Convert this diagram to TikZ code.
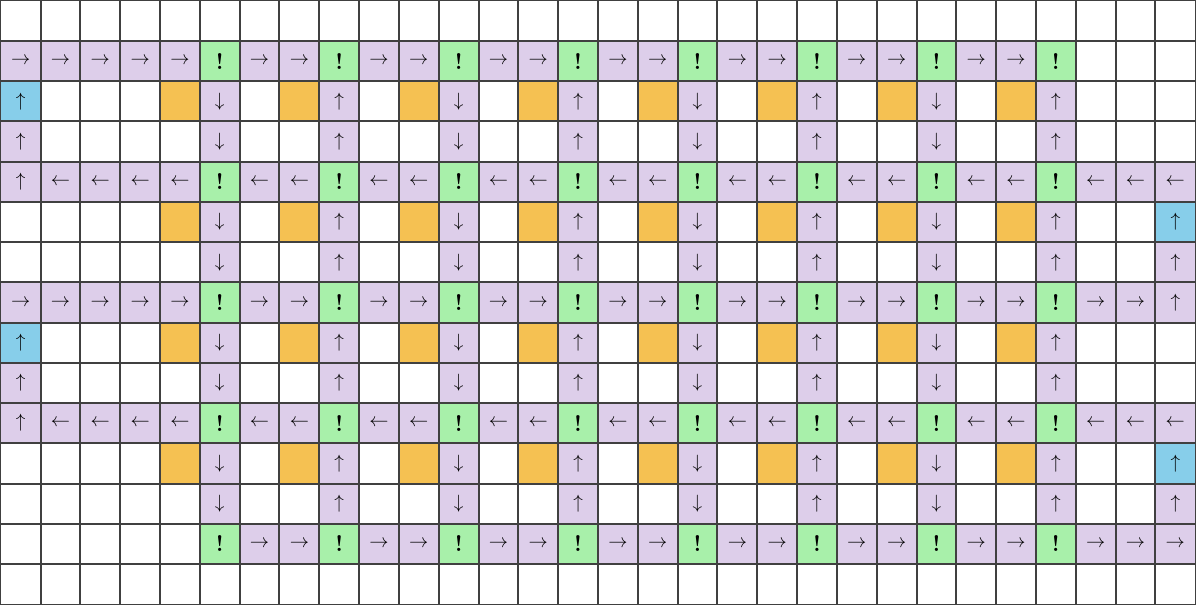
\documentclass[tikz,border=0pt]{standalone}
\usepackage{tikz}
\definecolor{purp}{RGB}{221,206,234}
\definecolor{grn}{RGB}{168,240,170}
\definecolor{orng}{RGB}{245,193,82}
\definecolor{blu}{RGB}{135,206,234}
\definecolor{gridc}{RGB}{64,64,64}
\newlength\cw \setlength\cw{29.86pt}
\newlength\ch \setlength\ch{30.17pt}
\tikzset{
  cell/.style={minimum width=\cw, minimum height=\ch,
    inner sep=0pt, anchor=center, font=\fontsize{15}{15}\selectfont},
  cellW/.style={cell, fill=white},
  cellR/.style={cell, fill=purp},
  cellL/.style={cell, fill=purp},
  cellU/.style={cell, fill=purp},
  cellD/.style={cell, fill=purp},
  cellG/.style={cell, fill=grn},
  cellO/.style={cell, fill=orng},
  cellB/.style={cell, fill=blu},
  gridline/.style={draw=gridc, line width=1.1pt},
}
\newcommand\txtW{}
\newcommand\txtO{}
\newcommand\txtR{$\rightarrow$}
\newcommand\txtL{$\leftarrow$}
\newcommand\txtU{$\uparrow$}
\newcommand\txtD{$\downarrow$}
\newcommand\txtB{$\uparrow$}
\newcommand\txtG{{\fontsize{17}{17}\selectfont\bfseries !}}
\begin{document}
\begin{tikzpicture}
\useasboundingbox (0,0) rectangle (897pt,-453.75pt);
\foreach \r in {0,...,14}{
  \foreach \c in {0,...,29}{
    \pgfmathtruncatemacro\isH{(mod(\r+2,3)==0)&&(\r>=1)&&(\r<=13)}
    \pgfmathtruncatemacro\isV{(\r>=2)&&(\r<=12)&&(\isH==0)}
    \pgfmathtruncatemacro\isGc{(\c>=5)&&(\c<=26)&&(mod(\c+1,3)==0)}
    \pgfmathtruncatemacro\isDn{(\c>=5)&&(\c<=23)&&(mod(\c+1,6)==0)}
    \pgfmathtruncatemacro\isUp{(\c>=8)&&(\c<=26)&&(mod(\c+4,6)==0)}
    \pgfmathtruncatemacro\isOr{(\c>=4)&&(\c<=25)&&(mod(\c+2,3)==0)&&(mod(\r+1,3)==0)}
    \def\t{W}
    \ifnum\isH=1
      \ifnum\isGc=1 \def\t{G}\else
        \ifnum\r=1 \ifnum\c<27 \def\t{R}\fi\fi
        \ifnum\r=7 \ifnum\c<29 \def\t{R}\else\def\t{U}\fi\fi
        \ifnum\r=13 \ifnum\c>4 \def\t{R}\fi\fi
        \ifnum\r=4 \ifnum\c=0 \def\t{U}\else\def\t{L}\fi\fi
        \ifnum\r=10 \ifnum\c=0 \def\t{U}\else\def\t{L}\fi\fi
      \fi
    \else
      \ifnum\isV=1
        \ifnum\isDn=1 \def\t{D}\else
        \ifnum\isUp=1 \def\t{U}\else
        \ifnum\isOr=1 \def\t{O}\else
          \ifnum\c=0
            \ifnum\r=2 \def\t{B}\fi
            \ifnum\r=8 \def\t{B}\fi
            \ifnum\r=3 \def\t{U}\fi
            \ifnum\r=9 \def\t{U}\fi
          \fi
          \ifnum\c=29
            \ifnum\r=5 \def\t{B}\fi
            \ifnum\r=11 \def\t{B}\fi
            \ifnum\r=6 \def\t{U}\fi
            \ifnum\r=12 \def\t{U}\fi
          \fi
        \fi\fi\fi
      \fi
    \fi
    \node[cell\t] (n-\r-\c) at ({0.6pt+(\c+0.5)*\cw},{-0.6pt-(\r+0.5)*\ch}) {\csname txt\t\endcsname};
  }
}
\foreach \r in {0,...,14}{
  \foreach \c in {0,...,29}{
    \draw[gridline] (n-\r-\c.south west) rectangle (n-\r-\c.north east);
  }
}
\end{tikzpicture}
\end{document}
